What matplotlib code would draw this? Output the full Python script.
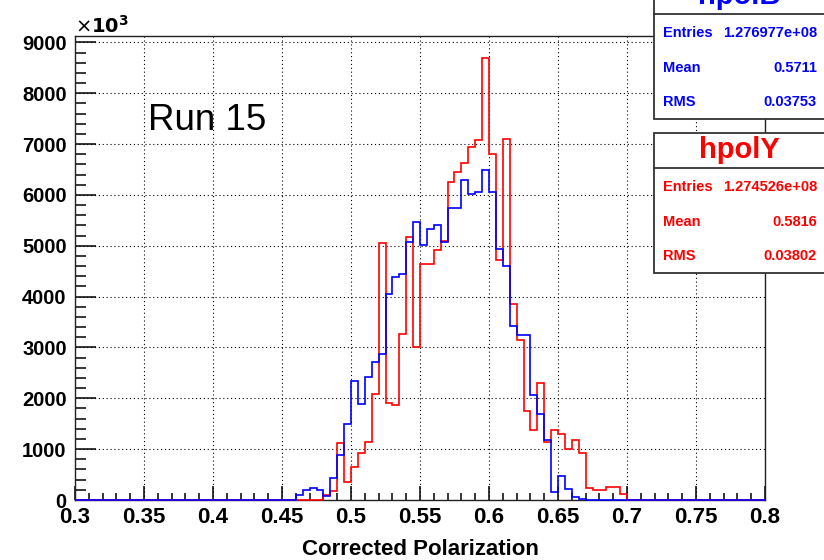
import numpy as np
import matplotlib
matplotlib.use("Agg")
import matplotlib.pyplot as plt
from matplotlib.patches import Rectangle
from matplotlib.ticker import MultipleLocator

plt.rcParams['font.family'] = ['Liberation Sans', 'DejaVu Sans']

# histogram binning: 100 bins of 0.005 between 0.3 and 0.8
x_lo, x_hi, n_bins = 0.3, 0.8, 100

# counts (x10^3), starting at the first non-empty bin
hpolB_start = 0.46
hpolB_counts = [103, 200, 232, 206, 71, 439, 877, 1503, 2333, 1882, 2418, 2712,
                2863, 4046, 4379, 4451, 5085, 5477, 5013, 5327, 5405, 5078, 5735,
                5735, 6300, 6020, 6059, 6500, 6055, 4935, 4610, 3430, 3240, 3240,
                2075, 1682, 1188, 149, 481, 221, 52, 26]
hpolY_start = 0.48
hpolY_counts = [100, 180, 1116, 361, 645, 923, 1148, 2078, 5046, 1908, 1863, 3268,
                5183, 3000, 4641, 4641, 4922, 5098, 6258, 6452, 6626, 6935, 7072,
                8693, 6810, 4725, 7105, 3850, 3144, 1760, 1370, 2300, 1143, 1370,
                1305, 1013, 1188, 916, 234, 201, 201, 247, 247, 117]

stats_B = [("Entries", "1.276977e+08"), ("Mean", "0.5711"), ("RMS", "0.03753")]
stats_Y = [("Entries", "1.274526e+08"), ("Mean", "0.5816"), ("RMS", "0.03802")]

edges = np.linspace(x_lo, x_hi, n_bins + 1)
width = (x_hi - x_lo) / n_bins

def fill(start, counts):
    h = np.zeros(n_bins)
    i0 = int(round((start - x_lo) / width))
    h[i0:i0 + len(counts)] = counts
    return h

hB = fill(hpolB_start, hpolB_counts)
hY = fill(hpolY_start, hpolY_counts)

W, H = 824, 560
fig = plt.figure(figsize=(W / 100, H / 100), dpi=100)
ax = fig.add_axes([75 / W, 1 - 500 / H, 690 / W, 464 / H])

ax.stairs(hY, edges, color='#ff0000', lw=1.2, zorder=3, clip_on=False)
ax.stairs(hB, edges, color='#0000ff', lw=1.2, zorder=4, clip_on=False)

ax.set_xlim(x_lo, x_hi)
ax.set_ylim(0, 1.05 * max(hY.max(), hB.max()))

ax.xaxis.set_minor_locator(MultipleLocator(0.01))
ax.yaxis.set_minor_locator(MultipleLocator(200))
ax.set_xticks(np.arange(0.3, 0.801, 0.05))
ax.set_xticklabels(['%g' % round(v, 2) for v in np.arange(0.3, 0.801, 0.05)])
ax.set_yticks(np.arange(0, 9001, 1000))

ax.grid(True, which='major', color='black', lw=0.8, linestyle=(0, (1, 2.5)))
ax.set_axisbelow(True)

ax.tick_params(axis='x', which='major', direction='in', length=10, width=1.1,
               labelsize=16, pad=5, top=False)
ax.tick_params(axis='x', which='minor', direction='in', length=5, width=1.1, top=False)
ax.tick_params(axis='y', which='major', direction='in', length=15, width=1.1,
               labelsize=14.5, pad=6, right=False)
ax.tick_params(axis='y', which='minor', direction='in', length=8, width=1.1, right=False)
for lab in ax.get_xticklabels() + ax.get_yticklabels():
    lab.set_fontweight('bold')
for s in ax.spines.values():
    s.set_linewidth(1.0)
    s.set_color('#222222')

ax.set_xlabel('Corrected Polarization', fontsize=16, fontweight='bold', labelpad=8)
fig.text(75 / W, 1 - 26 / H, r'$\times\mathbf{10^{3}}$', fontsize=14,
         ha='left', va='center')
ax.text(0.106, 0.817, 'Run 15', transform=ax.transAxes, fontsize=26.5,
        ha='left', va='center')

def stat_box(top, title, rows, color):
    x0, x1 = 654, 830
    sep, bottom = top + 35, top + 140
    fig.patches.append(Rectangle((x0 / W, 1 - bottom / H), (x1 - x0) / W,
                                 (bottom - top) / H, transform=fig.transFigure,
                                 facecolor='white', edgecolor='#333333', lw=1.3,
                                 zorder=10))
    fig.add_artist(plt.Line2D([x0 / W, x1 / W], [1 - sep / H, 1 - sep / H],
                              color='#333333', lw=1.3, zorder=11))
    fig.text(739 / W, 1 - (top + 17) / H, title, color=color, fontsize=21,
             fontweight='bold', ha='center', va='center', zorder=12)
    for k, (name, val) in enumerate(rows):
        y = 1 - (sep + 19 + k * 34.5) / H
        fig.text(663 / W, y, name, color=color, fontsize=10.5, fontweight='bold',
                 ha='left', va='center', zorder=12)
        fig.text(817 / W, y, val, color=color, fontsize=10.5, fontweight='bold',
                 ha='right', va='center', zorder=12)

stat_box(-21, 'hpolB', stats_B, '#0000ff')
stat_box(133, 'hpolY', stats_Y, '#ff0000')

fig.savefig('out.png', dpi=100)
